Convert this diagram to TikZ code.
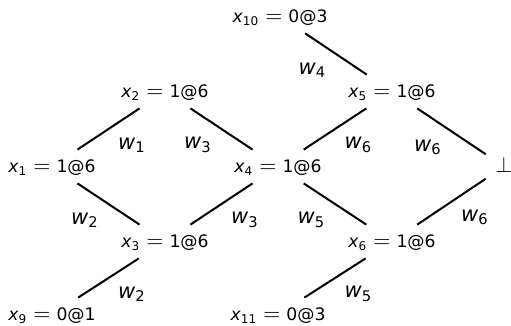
\documentclass[tikz,border=0pt]{standalone}
\usepackage{fontspec}
\setmainfont{DejaVu Sans}
\usetikzlibrary{positioning}

% node and weight texts
\newcommand{\valfont}{\fontsize{8.6}{10}\selectfont}
\newcommand{\asg}[2]{{\valfont\textit{x}\textsubscript{#1}}${}={}${\valfont #2}}
\newcommand{\wt}[1]{\textit{w}\textsubscript{#1}}

\begin{document}
\begin{tikzpicture}[
			x=0.5pt,y=-0.5pt,
			font=\fontsize{10.5}{12}\selectfont,
			var/.style={
				anchor=base,
				inner xsep=4.7pt,
				inner ysep=3pt,
				text height=8.5pt,
				text depth=2pt
			},
			link/.style={line width=1pt},
			wr/.style={midway,inner sep=0pt,xshift=11.75pt,yshift=-8pt},
			wl/.style={midway,inner sep=0pt,xshift=-11.75pt,yshift=-8pt}
			]
			\useasboundingbox (0,0) rectangle (511,326);
			
			\node[var] (x10) at (280,23) {\asg{10}{0@3}};
			
			\node[var] (x2) at (165,98) {\asg{2}{1@6}};
			\node[var] (x5) at (392,98) {\asg{5}{1@6}};
			
			\node[var] (x1) at (52,173) {\asg{1}{1@6}};
			\node[var] (x4) at (278,173) {\asg{4}{1@6}};
			\node[var] (bot) at (504,173) {$\bot$};
			
			\node[var] (x3) at (165,248) {\asg{3}{1@6}};
			\node[var] (x6) at (392,248) {\asg{6}{1@6}};
			
			\node[var] (x9) at (52,321) {\asg{9}{0@1}};
			\node[var] (x11) at (278,321) {\asg{11}{0@3}};
			
			\draw[link] (x2) -- node[wr] {\wt{1}} (x1);
			\draw[link] (x2) -- node[wl] {\wt{3}} (x4);
			\draw[link] (x10) -- node[wl] {\wt{4}} (x5);
			\draw[link] (x5) -- node[wr] {\wt{6}} (x4);
			\draw[link] (x5) -- node[wl] {\wt{6}} (bot);
			
			\draw[link] (x1) -- node[wl] {\wt{2}} (x3);
			\draw[link] (x4) -- node[wr] {\wt{3}} (x3);
			\draw[link] (x4) -- node[wl] {\wt{5}} (x6);
			\draw[link] (bot) -- node[wr] {\wt{6}} (x6);
			
			\draw[link] (x3) -- node[wr] {\wt{2}} (x9);
			\draw[link] (x6) -- node[wr] {\wt{5}} (x11);
			
		\end{tikzpicture}
\end{document}
